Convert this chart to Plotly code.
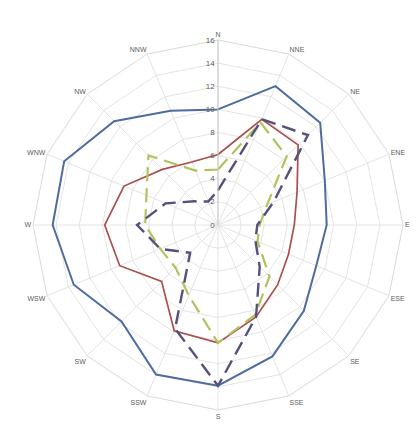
import plotly.graph_objects as go

directions = ['N', 'NNE', 'NE', 'ENE', 'E', 'ESE', 'SE', 'SSE',
              'S', 'SSW', 'SW', 'WSW', 'W', 'WNW', 'NW', 'NNW']

blue_vals = [10.0, 13.0, 12.5, 10.0, 9.4, 9.2, 10.5, 12.3,
             13.9, 14.0, 11.8, 13.5, 14.3, 14.4, 12.7, 10.7]
red_vals = [6.1, 9.9, 9.8, 7.4, 6.6, 6.6, 7.3, 8.6,
            10.2, 9.9, 6.9, 9.2, 9.8, 8.8, 6.8, 5.9]
green_vals = [4.8, 9.6, 8.4, 4.6, 3.6, 3.7, 6.3, 8.4,
              10.2, 6.6, 5.2, 5.4, 6.3, 6.7, 8.5, 5.1]
purple_vals = [3.0, 9.9, 11.0, 5.2, 3.4, 3.5, 5.1, 8.6,
               13.9, 9.7, 3.4, 5.4, 7.0, 4.9, 2.9, 2.2]

radial_ticks = [0, 2, 4, 6, 8, 10, 12, 14, 16]

series = [
    (blue_vals, '#4F6C9E', 'solid', 2),
    (red_vals, '#A9504F', 'solid', 1.7),
    (green_vals, '#B2C25E', '14px,7px', 2.2),
    (purple_vals, '#53527A', '14px,7px', 2.4),
]

fig = go.Figure()
for vals, color, dash, w in series:
    fig = fig.add_trace(
        go.Scatterpolar(
            r=vals + vals[:1],
            theta=directions + directions[:1],
            mode='lines',
            line=dict(color=color, width=w, dash=dash),
            hoverinfo='skip'
        )
    )

# page body has an 8px margin, so the figure is a bit smaller than the window
fig = fig.update_layout(
    width=411, height=411,
    showlegend=False,
    paper_bgcolor='white',
    margin=dict(l=0, r=0, t=0, b=0),
    polar=dict(
        domain=dict(x=[25 / 411, 395 / 411], y=[9 / 411, 379 / 411]),
        bgcolor='white',
        gridshape='linear',
        radialaxis=dict(
            range=[0, 16],
            tickvals=radial_ticks,
            angle=90,
            tickangle=90,
            side='counterclockwise',
            showline=True,
            linecolor='#C8C8C8',
            linewidth=1,
            gridcolor='#E4E4E4',
            ticks='',
            tickfont=dict(family='Liberation Sans', size=8, color='#606060')
        ),
        angularaxis=dict(
            rotation=90,
            direction='clockwise',
            showline=True,
            linecolor='#DADADA',
            gridcolor='#E4E4E4',
            ticks='',
            tickfont=dict(family='Liberation Sans', size=7, color='#606060')
        )
    )
)

fig.write_html("out.html")
